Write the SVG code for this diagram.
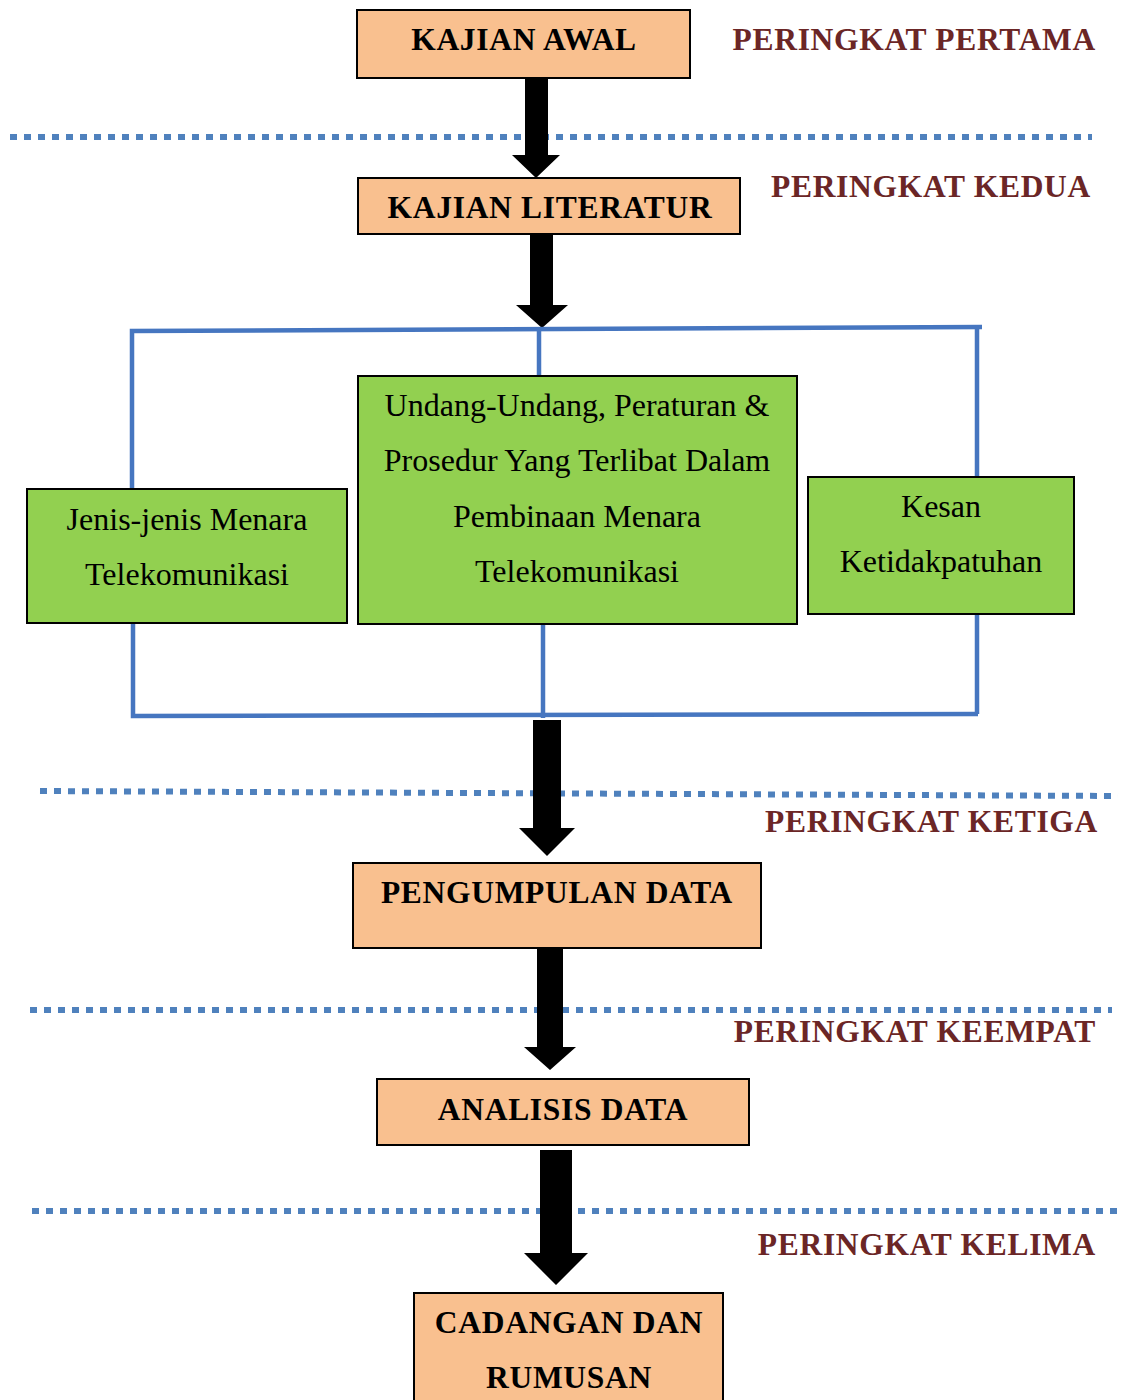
<svg xmlns="http://www.w3.org/2000/svg" width="1121" height="1400" viewBox="0 0 1121 1400">
<style>
.orange{fill:#F9C08F;stroke:#000;stroke-width:2}
.green{fill:#92D050;stroke:#000;stroke-width:2}
.bt{font-family:"Liberation Serif",serif;font-weight:bold;font-size:31.5px;letter-spacing:0.7px;fill:#000;text-anchor:middle}
.rt{font-family:"Liberation Serif",serif;font-size:32px;fill:#000;text-anchor:middle}
.stage{font-family:"Liberation Serif",serif;font-weight:bold;font-size:31.5px;letter-spacing:0.7px;fill:#6B2626;text-anchor:end}
.dot{stroke:#4F81BD;stroke-width:6;stroke-dasharray:7 7;fill:none}
.blue{stroke:#4676C0;stroke-width:4.5;fill:none}
.arrow{fill:#000}
</style>
<g id="separators">
<line class="dot" x1="10" y1="137" x2="1092" y2="137"/>
<line class="dot" x1="40" y1="791" x2="1118" y2="796"/>
<line class="dot" x1="30" y1="1010" x2="1112" y2="1010"/>
<line class="dot" x1="32" y1="1211" x2="1121" y2="1211"/>
</g>
<g id="stage-labels">
<text class="stage" x="1096" y="50">PERINGKAT PERTAMA</text>
<text class="stage" x="1091" y="197">PERINGKAT KEDUA</text>
<text class="stage" x="1098" y="832">PERINGKAT KETIGA</text>
<text class="stage" x="1096" y="1042">PERINGKAT KEEMPAT</text>
<text class="stage" x="1096" y="1255">PERINGKAT KELIMA</text>
</g>
<g id="connectors">
<polygon class="arrow" points="525,78 548,78 548,155 560,155 536,178 512,155 525,155"/>
<polygon class="arrow" points="530,234 553,234 553,305 568,305 542,328 516,305 530,305"/>
<polyline class="blue" points="132,489 132,331 982,327"/>
<line class="blue" x1="539" y1="330" x2="539" y2="376"/>
<line class="blue" x1="977" y1="328" x2="977" y2="477"/>
<polyline class="blue" points="133,620 133,716 978,714"/>
<line class="blue" x1="543" y1="620" x2="543" y2="718"/>
<line class="blue" x1="977" y1="615" x2="977" y2="714"/>
<polygon class="arrow" points="533,720 561,720 561,828 575,828 547,856 519,828 533,828"/>
<polygon class="arrow" points="537,948 563,948 563,1047 576,1047 550,1070 524,1047 537,1047"/>
<polygon class="arrow" points="540,1150 572,1150 572,1253 588,1253 556,1285 524,1253 540,1253"/>
</g>
<g id="kajian-awal">
<rect class="orange" x="357" y="10" width="333" height="68"/>
<text class="bt" x="524" y="50">KAJIAN AWAL</text>
</g>
<g id="kajian-literatur">
<rect class="orange" x="358" y="178" width="382" height="56"/>
<text class="bt" x="550" y="218">KAJIAN LITERATUR</text>
</g>
<g id="jenis-menara">
<rect class="green" x="27" y="489" width="320" height="134"/>
<text class="rt" x="187" y="530">Jenis-jenis Menara</text>
<text class="rt" x="187" y="585">Telekomunikasi</text>
</g>
<g id="undang-undang">
<rect class="green" x="358" y="376" width="439" height="248"/>
<text class="rt" x="577" y="416">Undang-Undang, Peraturan &amp;</text>
<text class="rt" x="577" y="471">Prosedur Yang Terlibat Dalam</text>
<text class="rt" x="577" y="527">Pembinaan Menara</text>
<text class="rt" x="577" y="582">Telekomunikasi</text>
</g>
<g id="kesan">
<rect class="green" x="808" y="477" width="266" height="137"/>
<text class="rt" x="941" y="517">Kesan</text>
<text class="rt" x="941" y="572">Ketidakpatuhan</text>
</g>
<g id="pengumpulan-data">
<rect class="orange" x="353" y="863" width="408" height="85"/>
<text class="bt" x="557" y="903">PENGUMPULAN DATA</text>
</g>
<g id="analisis-data">
<rect class="orange" x="377" y="1079" width="372" height="66"/>
<text class="bt" x="563" y="1120">ANALISIS DATA</text>
</g>
<g id="cadangan-rumusan">
<rect class="orange" x="414" y="1293" width="309" height="120"/>
<text class="bt" x="569" y="1333">CADANGAN DAN</text>
<text class="bt" x="569" y="1388">RUMUSAN</text>
</g>
</svg>
